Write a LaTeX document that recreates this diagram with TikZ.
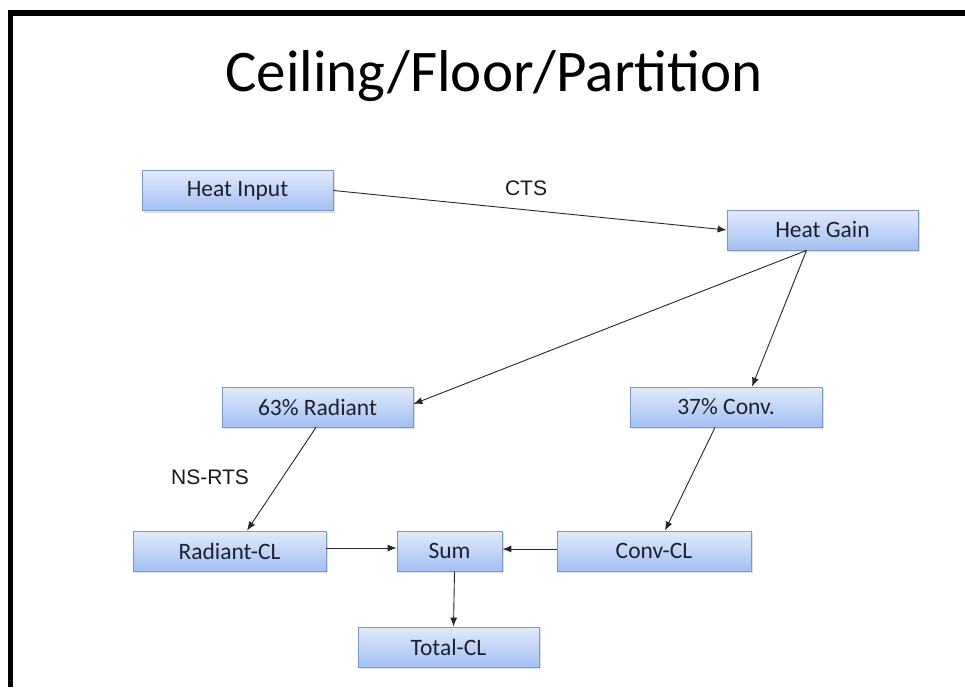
\documentclass[tikz,border=0pt]{standalone}
\usepackage{fontspec}
\setmainfont{Carlito}
\newfontfamily\arialfont{Liberation Sans}
\usetikzlibrary{arrows.meta,shadows}
\definecolor{boxtop}{RGB}{226,234,252}
\definecolor{boxbot}{RGB}{162,192,242}
\definecolor{boxline}{RGB}{125,150,195}
\definecolor{boxtext}{RGB}{28,33,48}
\tikzset{
  flowbox/.style={draw=boxline, line width=0.8pt, top color=boxtop, bottom color=boxbot,
    minimum height=40pt, inner sep=0pt, text=boxtext, font=\fontsize{23.5}{26}\selectfont,
    drop shadow={opacity=0.25, shadow xshift=1.5pt, shadow yshift=-2pt}},
  flowarrow/.style={draw=black!85, line width=0.9pt, -{Latex[length=9pt,width=7pt]}},
  edgelabel/.style={font=\arialfont\fontsize{21}{24}\selectfont, text=black!90}
}
\begin{document}
\begin{tikzpicture}[x=1pt,y=-1pt]
\useasboundingbox (0,0) rectangle (965,687);
% frame
\fill[black] (8,10) rectangle (965,16);
\fill[black] (8,10) rectangle (13,687);
% title
\node (title) at (494,76) {\fontsize{59}{66}\selectfont Ceiling/Floor/Partition};
% boxes
\node[flowbox, minimum width=191pt] (hi) at (237.5,190.5) {Heat Input};
\node[flowbox, minimum width=191pt] (hg) at (822.5,230) {Heat Gain};
\node[flowbox, minimum width=191pt] (rad) at (317.5,407) {63\% Radiant};
\node[flowbox, minimum width=192pt] (conv) at (726,407) {37\% Conv.};
\node[flowbox, minimum width=193pt] (rcl) at (229.5,551) {Radiant-CL};
\node[flowbox, minimum width=105pt] (sum) at (449.5,551) {Sum};
\node[flowbox, minimum width=194pt] (ccl) at (654,551) {Conv-CL};
\node[flowbox, minimum width=181pt] (tcl) at (448.5,647) {Total-CL};
% labels
\node[edgelabel] (cts) at (526,188) {CTS};
\node[edgelabel] (nsrts) at (210,477) {NS-RTS};
% arrows
\coordinate (hgout) at ([xshift=-16pt]hg.south);
\draw[flowarrow] (hi.east) -- (hg.west);
\draw[flowarrow] (hgout) -- ([yshift=3pt]rad.east);
\draw[flowarrow] (hgout) -- ([xshift=26pt]conv.north);
\draw[flowarrow] ([xshift=-1.5pt]rad.south) -- ([xshift=17.5pt]rcl.north);
\draw[flowarrow] ([xshift=-11pt]conv.south) -- ([xshift=11pt]ccl.north);
\draw[flowarrow] ([yshift=3pt]rcl.east) -- ([yshift=3pt]sum.west);
\draw[flowarrow] ([yshift=2pt]ccl.west) -- ([yshift=2pt]sum.east);
\draw[flowarrow] ([xshift=5pt]sum.south) -- ([xshift=5pt]tcl.north);
\end{tikzpicture}
\end{document}
